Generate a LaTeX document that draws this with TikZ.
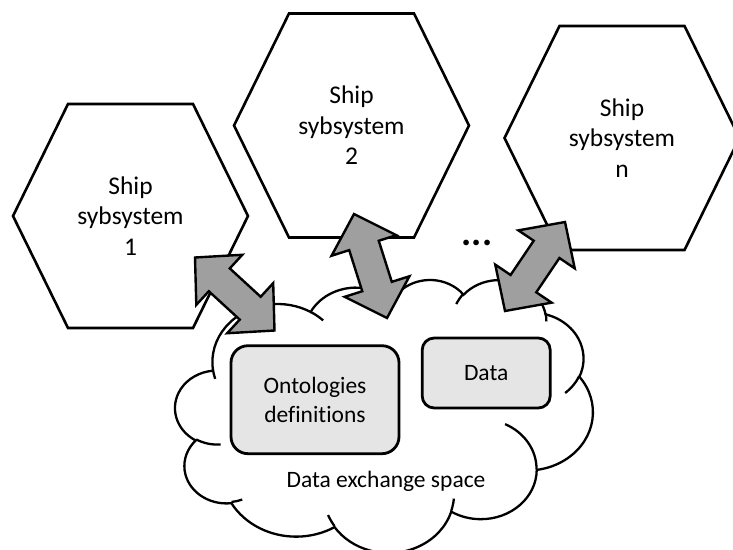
\documentclass[tikz,border=0pt]{standalone}
\usepackage{fontspec}
\setmainfont{Carlito}[Ligatures={NoCommon}]
\usetikzlibrary{calc}

\tikzset{
  hexline/.style={line width=2.6pt, line join=miter, fill=white},
  systext/.style={font=\fontsize{25.5}{30.5}\selectfont, align=center},
  cloudline/.style={line width=2.3pt},
  infobox/.style={draw, line width=2.8pt, fill=gray!20, rounded corners=#1,
    font=\fontsize{23.5}{29.5}\selectfont, align=center},
  infobox/.default=15pt,
  spacetext/.style={font=\fontsize{23.5}{29.5}\selectfont},
  linkarrow/.style={draw, line width=2.4pt, fill=gray!75, line join=miter},
}

% block arrow with a head at both ends
\newcommand{\linkarrow}[2]{%
  \draw[linkarrow] (#1)
    -- ($(#1)!33pt!(#2)!34pt!90:(#2)$) -- ($(#1)!33pt!(#2)!15.5pt!90:(#2)$)
    -- ($(#2)!33pt!(#1)!15.5pt!-90:(#1)$) -- ($(#2)!33pt!(#1)!34pt!-90:(#1)$)
    -- (#2)
    -- ($(#2)!33pt!(#1)!34pt!90:(#1)$) -- ($(#2)!33pt!(#1)!15.5pt!90:(#1)$)
    -- ($(#1)!33pt!(#2)!15.5pt!-90:(#2)$) -- ($(#1)!33pt!(#2)!34pt!-90:(#2)$)
    -- cycle;}

\begin{document}
\begin{tikzpicture}[x=1pt, y=-1pt]
\useasboundingbox (0,0) rectangle (733,549);
\clip (0,0) rectangle (733,549);

% Data exchange space (cloud)
\begin{scope}[shift={(175.3,279.1)}, x=0.9663pt, y=-0.6317pt]
\draw[cloudline, fill=white] (39.00,143.70)
  \foreach \a/\b/\s/\w [evaluate={\s as \ts using atan2(\a*sin(\s),\b*cos(\s))},
      evaluate={\s as \dt using mod(atan2(\a*sin(\s+\w),\b*cos(\s+\w))-\ts+720,360)}]
    in {67.53/91.90/-190.4875/123.7805, 53.33/72.67/-144.1024/89.9452,
        43.65/59.45/-145.8079/99.7230, 48.57/65.95/-130.9861/117.2417,
        53.33/72.73/-78.7089/109.0269, 67.75/92.20/-46.2673/130.2690,
        57.85/78.67/0.6250/114.0333, 67.52/92.15/22.4516/115.1726,
        77.20/105.43/66.2426/75.7110, 43.60/59.18/-274.9421/146.7356,
        43.45/59.45/-246.8285/152.5189}
  { arc[x radius=\a, y radius=\b, start angle=\ts, delta angle=\dt] }
  -- cycle;
\draw[cloudline]
  \foreach \px/\py/\a/\b/\s/\w [evaluate={\s as \ts using atan2(\a*sin(\s),\b*cos(\s))},
      evaluate={\s as \dt using mod(atan2(\a*sin(\s+\w),\b*cos(\s+\w))-\ts+720,360)}]
    in {46.93/261.77/43.45/59.45/86.7420/26.4295, 69.28/348.99/43.60/59.18/73.6105/11.4475,
        164.78/390.90/67.52/92.15/137.6242/14.0811, 288.27/347.51/67.52/92.15/6.4533/15.9984,
        341.29/229.54/57.85/78.67/-70.2924/70.9174, 417.98/153.54/53.33/72.73/30.3180/27.7515,
        383.24/54.26/48.57/65.95/-13.7443/14.8589, 290.78/39.52/48.57/65.95/-149.1815/18.1954,
        221.41/47.20/43.65/59.45/-163.4943/17.6864, 140.00/51.92/67.53/91.90/-66.7070/12.3194,
        41.27/157.89/67.53/91.90/157.6544/11.8582}
  { (\px,\py) arc[x radius=\a, y radius=\b, start angle=\ts, delta angle=\dt] };
\end{scope}

\node[infobox=17pt, minimum width=168pt, minimum height=108pt] (onto) at (315,399.7) {Ontologies\\definitions};
\node[infobox=12pt, minimum width=128pt, minimum height=70pt] (data) at (486.2,373) {Data};
\node[spacetext] (space) at (386,481.7) {Data exchange space};

% Ship subsystems
\begin{scope}[shift={(130.5,216)}]
\draw[hexline] (-117.5,0) -- (-62.5,-112) -- (62.5,-112) -- (117.5,0) -- (62.5,112) -- (-62.5,112) -- cycle;
\node[systext] (sys1) at (0,0) {Ship\\sybsystem\\1};
\end{scope}

\begin{scope}[shift={(351.5,125.5)}]
\draw[hexline] (-117.5,0) -- (-62.5,-112) -- (62.5,-112) -- (117.5,0) -- (62.5,112) -- (-62.5,112) -- cycle;
\node[systext] (sys2) at (0,0) {Ship\\sybsystem\\2};
\end{scope}

\begin{scope}[shift={(622,138)}]
\draw[hexline] (-117.5,0) -- (-62.5,-112) -- (62.5,-112) -- (117.5,0) -- (62.5,112) -- (-62.5,112) -- cycle;
\node[systext] (sysn) at (0,0) {Ship\\sybsystem\\n};
\end{scope}

\node[font=\fontsize{38}{40}\selectfont\bfseries] (dots) at (477,243) {...};

% Links between subsystems and the exchange space
\coordinate (l1a) at (195,257.5);
\coordinate (l1b) at (274.5,330.5);
\coordinate (l2a) at (354,214);
\coordinate (l2b) at (387,318);
\coordinate (l3a) at (565,222);
\coordinate (l3b) at (505,311);
\linkarrow{l1a}{l1b}
\linkarrow{l2a}{l2b}
\linkarrow{l3a}{l3b}
\end{tikzpicture}
\end{document}
